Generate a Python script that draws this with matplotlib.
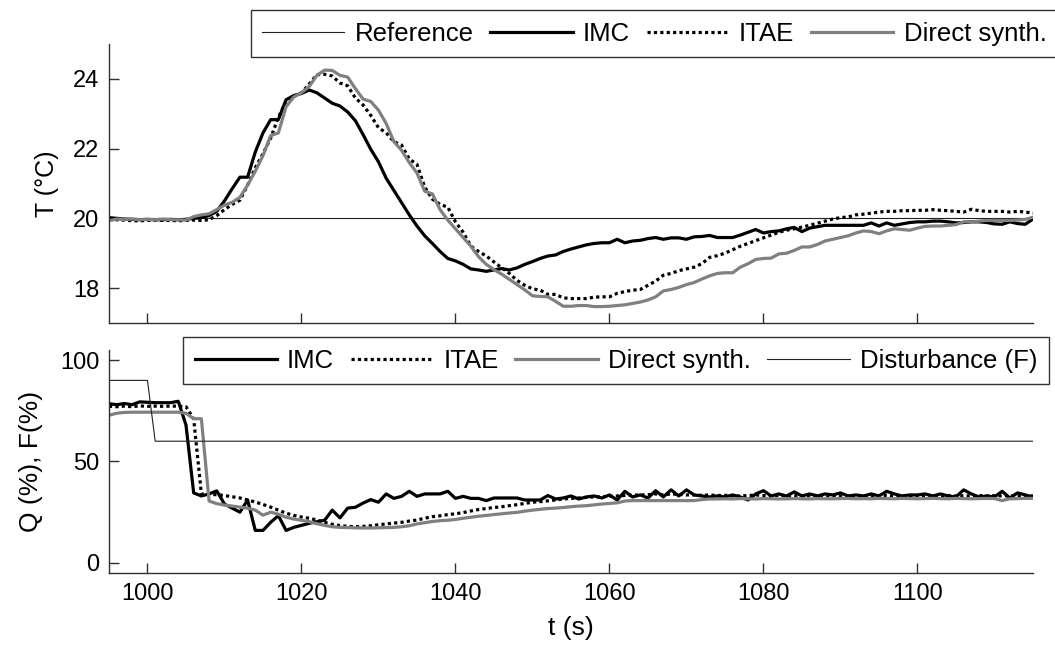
import numpy as np
import matplotlib.pyplot as plt

plt.rcParams['font.family'] = ['Liberation Sans', 'DejaVu Sans']

t = np.arange(995, 1116)  # 1 s samples

T_ref = [20.0] * len(t)

T_imc = [20.02, 20.0, 19.98, 19.97, 19.96, 19.97, 19.96, 19.96, 19.97, 19.96,
         19.97, 20.0, 20.02, 20.08, 20.2, 20.5, 20.85, 21.18, 21.18, 21.9,
         22.45, 22.83, 22.83, 23.4, 23.52, 23.58, 23.68, 23.6, 23.45, 23.3,
         23.22, 23.05, 22.8, 22.4, 21.98, 21.62, 21.15, 20.8, 20.45, 20.1,
         19.78, 19.5, 19.28, 19.05, 18.85, 18.78, 18.68, 18.55, 18.52, 18.48,
         18.52, 18.56, 18.52, 18.58, 18.68, 18.76, 18.85, 18.92, 18.95, 19.05,
         19.12, 19.18, 19.24, 19.28, 19.3, 19.3, 19.4, 19.3, 19.35, 19.37,
         19.42, 19.45, 19.4, 19.44, 19.44, 19.4, 19.47, 19.48, 19.51, 19.45,
         19.45, 19.45, 19.52, 19.6, 19.68, 19.58, 19.62, 19.64, 19.7, 19.74,
         19.62, 19.72, 19.76, 19.8, 19.8, 19.8, 19.8, 19.8, 19.8, 19.87,
         19.78, 19.87, 19.8, 19.84, 19.88, 19.9, 19.9, 19.92, 19.92, 19.9,
         19.87, 19.88, 19.9, 19.9, 19.88, 19.84, 19.83, 19.9, 19.85, 19.83,
         19.98]

T_itae = [19.98, 19.96, 19.95, 19.93, 19.93, 19.94, 19.95, 19.94, 19.94, 19.93,
          19.94, 19.95, 19.94, 19.96, 20.08, 20.25, 20.4, 20.52, 20.95, 21.45,
          21.85, 22.3, 22.9, 23.35, 23.5, 23.6, 23.85, 24.12, 24.13, 24.08,
          23.88, 23.8, 23.45, 23.25, 22.95, 22.6, 22.45, 22.2, 22.1, 21.7,
          21.55, 20.9, 20.55, 20.4, 20.32, 19.9, 19.6, 19.2, 19.05, 18.92,
          18.75, 18.58, 18.42, 18.22, 18.08, 17.98, 17.94, 17.82, 17.82, 17.72,
          17.7, 17.7, 17.7, 17.74, 17.75, 17.75, 17.85, 17.9, 17.94, 17.96,
          18.08, 18.2, 18.37, 18.42, 18.5, 18.55, 18.6, 18.7, 18.88, 18.93,
          19.0, 19.1, 19.2, 19.28, 19.36, 19.44, 19.52, 19.6, 19.66, 19.7,
          19.75, 19.8, 19.86, 19.92, 19.98, 20.02, 20.04, 20.1, 20.12, 20.15,
          20.18, 20.2, 20.2, 20.22, 20.22, 20.23, 20.23, 20.25, 20.23, 20.22,
          20.2, 20.18, 20.26, 20.22, 20.2, 20.2, 20.2, 20.18, 20.2, 20.18,
          20.15]

T_ds = [19.93, 19.98, 19.97, 19.98, 19.96, 19.97, 19.96, 19.98, 19.96, 19.96,
        19.95, 20.05, 20.1, 20.13, 20.25, 20.38, 20.46, 20.6, 20.95, 21.35,
        21.8, 22.37, 22.45, 23.2, 23.48, 23.6, 23.78, 24.1, 24.25, 24.24,
        24.1, 24.05, 23.72, 23.42, 23.35, 23.1, 22.72, 22.2, 21.95, 21.6,
        21.3, 20.78, 20.7, 20.25, 19.95, 19.7, 19.45, 19.2, 18.9, 18.68,
        18.53, 18.4, 18.25, 18.1, 17.95, 17.78, 17.76, 17.75, 17.62, 17.48,
        17.48, 17.5, 17.5, 17.47, 17.47, 17.48, 17.5, 17.52, 17.56, 17.6,
        17.66, 17.75, 17.92, 17.96, 18.02, 18.1, 18.16, 18.26, 18.35, 18.42,
        18.44, 18.44, 18.6, 18.7, 18.82, 18.85, 18.86, 18.98, 19.0, 19.08,
        19.18, 19.18, 19.25, 19.35, 19.4, 19.45, 19.5, 19.58, 19.64, 19.62,
        19.56, 19.64, 19.7, 19.68, 19.66, 19.72, 19.77, 19.78, 19.78, 19.8,
        19.82, 19.9, 19.9, 19.92, 19.94, 19.94, 19.94, 19.94, 19.95, 19.97,
        20.03]

Q_imc = [78.5, 78.0, 78.6, 78.0, 79.4, 79.2, 79.0, 79.0, 79.0, 79.7,
         68.0, 34.5, 33.0, 34.0, 35.5, 29.0, 27.0, 25.0, 31.0, 16.0,
         16.0, 20.0, 23.3, 16.0, 17.5, 18.5, 19.5, 20.3, 21.0, 26.0,
         22.2, 27.0, 27.4, 29.5, 31.2, 29.9, 34.0, 31.8, 32.8, 35.3,
         32.8, 34.0, 34.0, 34.0, 35.3, 31.8, 32.8, 31.8, 31.8, 30.7,
         32.0, 32.0, 32.0, 32.0, 31.0, 31.0, 31.0, 33.2, 31.5, 32.0,
         33.0, 31.5, 32.5, 33.0, 32.0, 33.5, 31.0, 35.3, 32.5, 33.5,
         32.0, 35.6, 32.5, 36.0, 33.0, 36.0, 33.5, 33.0, 32.5, 33.0,
         32.5, 33.5, 32.5, 31.0, 34.0, 35.6, 33.0, 34.0, 33.0, 35.0,
         33.0, 34.0, 33.0, 34.0, 33.5, 34.5, 33.0, 33.5, 33.0, 34.0,
         33.0, 35.3, 34.0, 33.0, 33.5, 33.5, 34.0, 33.0, 34.0, 33.0,
         32.5, 36.0, 34.0, 32.5, 33.0, 32.5, 35.3, 32.0, 34.5, 33.5,
         32.5]

Q_itae = [77.2, 77.0, 77.3, 77.0, 77.4, 77.2, 77.3, 77.2, 77.3, 77.3,
          77.0, 71.0, 34.0, 33.8, 33.6, 33.2, 32.6, 32.0, 31.0, 30.0,
          28.8, 27.5, 26.0, 24.5, 23.4, 22.6, 22.0, 21.1, 20.0, 19.0,
          18.4, 18.0, 17.8, 18.0, 18.3, 18.8, 19.2, 19.6, 20.0, 20.6,
          21.1, 22.0, 22.8, 23.2, 23.8, 24.2, 24.8, 25.6, 26.3, 26.8,
          27.3, 27.7, 28.2, 28.7, 29.3, 29.9, 30.2, 30.6, 31.0, 31.5,
          31.8, 32.0, 32.3, 32.5, 32.6, 32.8, 33.0, 33.2, 33.4, 33.5,
          33.6, 34.0, 33.5, 34.0, 33.8, 33.5, 33.5, 33.3, 33.5, 33.2,
          33.3, 33.0, 33.0, 33.2, 33.5, 33.2, 33.0, 33.3, 33.0, 33.2,
          33.0, 33.1, 33.3, 33.0, 33.2, 33.0, 33.1, 33.0, 33.2, 33.0,
          33.1, 33.3, 33.0, 33.1, 33.0, 33.2, 33.0, 33.1, 33.0, 33.2,
          33.0, 33.1, 33.0, 33.2, 33.0, 33.1, 33.0, 33.2, 33.0, 33.1,
          33.0]

Q_ds = [72.8, 73.8, 74.2, 74.3, 74.3, 74.3, 74.3, 74.3, 74.3, 74.3,
        73.8, 71.1, 71.1, 30.5, 29.2, 28.5, 28.0, 27.5, 27.0, 26.0,
        23.5, 25.0, 24.0, 22.5, 21.6, 21.0, 20.3, 19.3, 18.5, 17.8,
        17.5, 17.4, 17.3, 17.2, 17.2, 17.3, 17.4, 17.5, 17.8, 18.3,
        19.2, 19.8, 20.4, 20.8, 21.0, 21.4, 22.0, 22.5, 23.0, 23.4,
        23.8, 24.2, 24.6, 24.9, 25.5, 26.0, 26.4, 26.8, 27.0, 27.3,
        27.7, 28.0, 28.2, 28.6, 29.0, 29.3, 29.6, 30.5, 30.7, 30.7,
        30.7, 30.7, 30.7, 30.7, 30.7, 30.7, 30.7, 31.2, 31.5, 31.5,
        31.6, 31.5, 31.7, 31.6, 31.5, 31.7, 31.6, 31.5, 31.6, 31.7,
        31.6, 31.5, 31.7, 31.6, 31.6, 31.7, 31.8, 31.6, 31.7, 31.6,
        31.8, 31.7, 31.6, 31.8, 31.7, 31.6, 31.7, 31.8, 31.7, 31.6,
        31.8, 31.7, 31.6, 31.7, 31.8, 31.7, 30.7, 31.6, 31.7, 31.8,
        31.8]

F_dist = [90.0] * 6 + [60.0] * 115

xticks = [1000, 1020, 1040, 1060, 1080, 1100]
gray = '#808080'
spine_c = '#303030'

fig = plt.figure(figsize=(10.55, 6.55), dpi=100)
ax1 = fig.add_axes([0.1033, 0.5069, 0.8758, 0.426])
ax2 = fig.add_axes([0.1033, 0.1252, 0.8758, 0.3405])

ax1.plot(t, T_ref, color='#202020', lw=0.8, label='Reference')
ax1.plot(t, T_imc, color='black', lw=2.3, label='IMC')
ax1.plot(t, T_itae, color='black', lw=2.3, ls=(0, (1, 1)), label='ITAE')
ax1.plot(t, T_ds, color=gray, lw=2.3, label='Direct synth.')

ax2.plot(t, Q_imc, color='black', lw=2.3, label='IMC')
ax2.plot(t, Q_itae, color='black', lw=2.3, ls=(0, (1, 1)), label='ITAE')
ax2.plot(t, Q_ds, color=gray, lw=2.3, label='Direct synth.')
ax2.plot(t, F_dist, color='#202020', lw=0.8, label='Disturbance (F)')

for ax in (ax1, ax2):
    ax.set_xlim(995, 1115)
    ax.set_xticks(xticks)
    ax.spines['top'].set_visible(False)
    ax.spines['right'].set_visible(False)
    for s in ('left', 'bottom'):
        ax.spines[s].set_color(spine_c)
        ax.spines[s].set_linewidth(1.0)
    ax.tick_params(direction='in', length=7, width=1, color=spine_c,
                   labelsize=17, pad=7)

ax1.set_ylim(17, 25)
ax1.set_yticks([18, 20, 22, 24])
ax1.tick_params(axis='x', labelbottom=False)
ax1.set_ylabel('T (°C)', fontsize=18, labelpad=10)

ax2.set_ylim(-5, 105)
ax2.set_yticks([0, 50, 100])
ax2.set_ylabel('Q (%), F(%)', fontsize=19, labelpad=12)
ax2.set_xlabel('t (s)', fontsize=19, labelpad=8)

leg_kw = dict(ncol=4, fontsize=18.5, frameon=True, fancybox=False,
              edgecolor='black', handlelength=3.2, handletextpad=0.4,
              columnspacing=0.65, borderpad=0.45, borderaxespad=0)
l1 = ax1.legend(loc='upper right', bbox_to_anchor=(1058 / 1055, 1 - 10 / 655),
                bbox_transform=fig.transFigure, **leg_kw)
l2 = ax2.legend(loc='upper right', bbox_to_anchor=(1049 / 1055, 1 - 337 / 655),
                bbox_transform=fig.transFigure, **leg_kw)
for lg in (l1, l2):
    lg.get_frame().set_linewidth(1.0)

fig.savefig('out.png', dpi=100)
